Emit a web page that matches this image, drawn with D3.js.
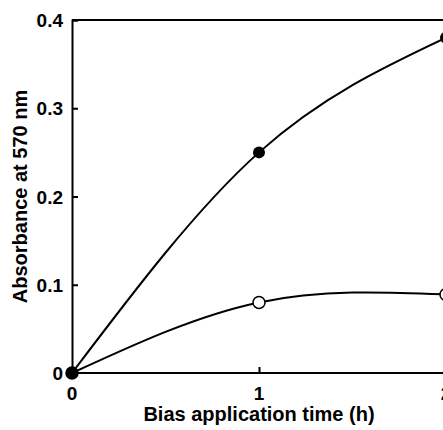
<!DOCTYPE html>
<html lang="en">
<head>
<meta charset="utf-8">
<title>Absorbance vs bias application time</title>
<script src="https://d3js.org/d3.v7.min.js"></script>
<style>
body { margin: 0; background: #fff; }
svg { display: block; }
text { font-family: "Liberation Sans", Arial, sans-serif; font-weight: bold; fill: #000; }
</style>
</head>
<body>
<script>

// data
const times = [0, 1, 2];
const filledVals = [0, 0.25, 0.38];
const openVals = [0, 0.08, 0.089];
const xTicks = [0, 1, 2];
const yTicks = [0, 0.1, 0.2, 0.3, 0.4];

const width = 443, height = 430;
const x = d3.scaleLinear().domain([0, 2]).range([72, 446]);
const y = d3.scaleLinear().domain([0, 0.4]).range([373, 20]);

const svg = d3.select("body").append("svg")
    .attr("width", width)
    .attr("height", height);

const line = d3.line()
    .x(d => x(d[0]))
    .y(d => y(d[1]))
    .curve(d3.curveNatural);

// curves
[openVals, filledVals].forEach(vals => {
  svg.append("path")
      .datum(times.map((t, i) => [t, vals[i]]))
      .attr("d", line)
      .attr("fill", "none")
      .attr("stroke", "#000")
      .attr("stroke-width", 2);
});

// frame: top border
svg.append("line")
    .attr("x1", x(0)).attr("x2", x(2.1))
    .attr("y1", y(0.4)).attr("y2", y(0.4))
    .attr("stroke", "#000").attr("stroke-width", 2);

// axes with inward ticks
const xAxis = svg.append("g")
    .attr("transform", `translate(0,${y(0)})`)
    .call(d3.axisTop(x).tickValues(xTicks).tickSize(6).tickFormat(""));
xAxis.select(".domain").attr("d", `M${x(0)},0H${x(2.1)}`);

const yAxis = svg.append("g")
    .attr("transform", `translate(${x(0)},0)`)
    .call(d3.axisRight(y).tickValues(yTicks).tickSize(6).tickFormat(""));

svg.selectAll(".domain").attr("stroke-width", 2);
svg.selectAll(".tick line").attr("stroke-width", 2);

// tick labels
svg.append("g").selectAll("text")
    .data(xTicks)
    .join("text")
    .attr("x", d => x(d))
    .attr("y", y(0) + 27)
    .attr("text-anchor", "middle")
    .style("font-size", "19px")
    .text(d => d);

svg.append("g").selectAll("text")
    .data(yTicks)
    .join("text")
    .attr("x", x(0) - 9)
    .attr("y", d => y(d) + 7)
    .attr("text-anchor", "end")
    .style("font-size", "19px")
    .text(d => d === 0 ? "0" : d3.format(".1f")(d));

// axis titles
svg.append("text")
    .attr("x", x(1))
    .attr("y", 421)
    .attr("text-anchor", "middle")
    .style("font-size", "20px")
    .text("Bias application time (h)");

svg.append("text")
    .attr("transform", `translate(27,${y(0.2)}) rotate(-90)`)
    .attr("text-anchor", "middle")
    .style("font-size", "20px")
    .text("Absorbance at 570 nm");

// markers
svg.append("g").selectAll("circle")
    .data(times.map((t, i) => [t, openVals[i]]))
    .join("circle")
    .attr("cx", d => x(d[0]))
    .attr("cy", d => y(d[1]))
    .attr("r", 6)
    .attr("fill", "#fff")
    .attr("stroke", "#000")
    .attr("stroke-width", 1.5);

svg.append("g").selectAll("circle")
    .data(times.map((t, i) => [t, filledVals[i]]))
    .join("circle")
    .attr("cx", d => x(d[0]))
    .attr("cy", d => y(d[1]))
    .attr("r", 6)
    .attr("fill", "#000");

</script>
</body>
</html>
